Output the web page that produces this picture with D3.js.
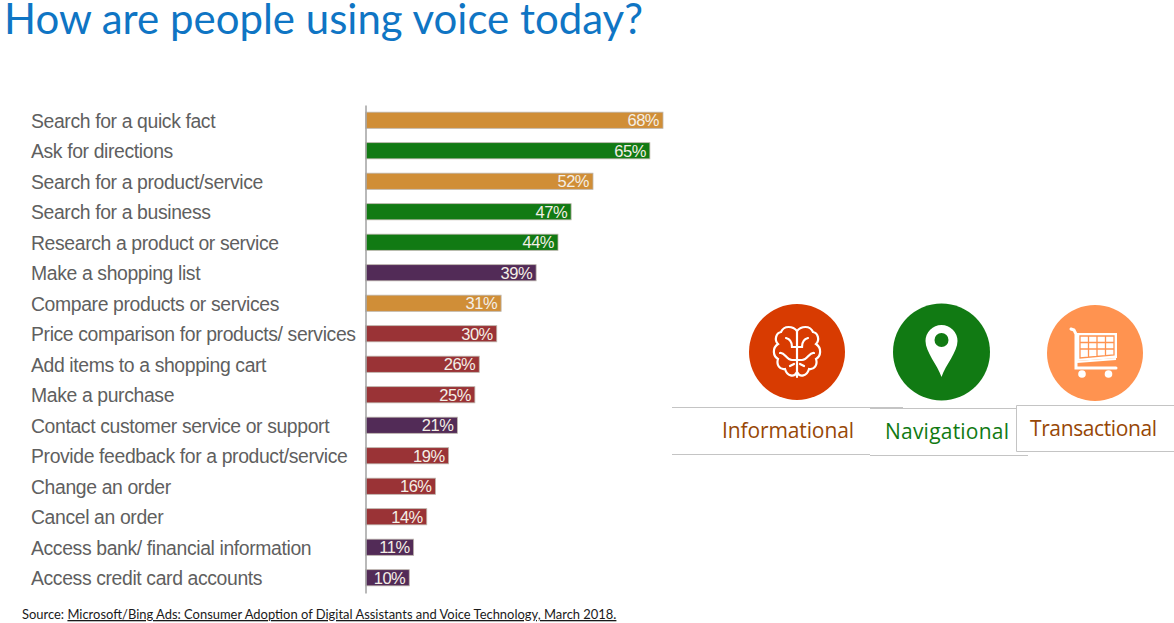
<!DOCTYPE html>
<html>
<head>
<meta charset="utf-8">
<script src="https://cdn.jsdelivr.net/npm/d3@7"></script>
<style>
  html, body { margin: 0; padding: 0; background: #fff; overflow: hidden; }
  svg { display: block; }
</style>
</head>
<body>
<div id="chart"></div>
<script>
const categories = [
  'Search for a quick fact', 'Ask for directions', 'Search for a product/service',
  'Search for a business', 'Research a product or service', 'Make a shopping list',
  'Compare products or services', 'Price comparison for products/ services',
  'Add items to a shopping cart', 'Make a purchase', 'Contact customer service or support',
  'Provide feedback for a product/service', 'Change an order', 'Cancel an order',
  'Access bank/ financial information', 'Access credit card accounts'
];
const values = [68, 65, 52, 47, 44, 39, 31, 30, 26, 25, 21, 19, 16, 14, 11, 10];
const groups = ['info', 'nav', 'info', 'nav', 'nav', 'other', 'info', 'trans',
  'trans', 'trans', 'other', 'trans', 'trans', 'trans', 'other', 'other'];
const groupKeys = ['info', 'nav', 'trans', 'other'];
const groupColors = ['#d08e37', '#117a13', '#9a3336', '#522b57'];
const legendLabels = ['Informational', 'Navigational', 'Transactional'];

const svg = d3.select('#chart').append('svg').attr('width', 1174).attr('height', 623);

// Escalas
const x = d3.scaleLinear().domain([0, 68]).range([365.5, 663]);
const y = d3.scaleBand().domain(categories).range([105, 593]).paddingInner(0.47).paddingOuter(0.235);
const color = d3.scaleOrdinal().domain(groupKeys).range(groupColors);

// Titulo
svg.append('text')
  .attr('x', 4).attr('y', 34)
  .attr('font-family', 'Lato').attr('font-weight', 400).attr('font-size', 42)
  .attr('fill', '#0f75c4')
  .attr('textLength', 639)
  .attr('lengthAdjust', 'spacingAndGlyphs')
  .text('How are people using voice today?');

// Barras
svg.selectAll('.bar')
  .data(values)
  .enter().append('rect')
  .attr('class', 'bar')
  .attr('x', x(0))
  .attr('y', (d, i) => y(categories[i]))
  .attr('width', d => x(d) - x(0))
  .attr('height', y.bandwidth())
  .attr('fill', (d, i) => color(groups[i]))
  .attr('stroke', '#bdb6ad')
  .attr('stroke-width', 0.8);

// Eje
const axis = svg.append('g')
  .attr('transform', `translate(${x(0)},0)`)
  .call(d3.axisLeft(y).tickSize(0).tickPadding(334.5));
axis.select('.domain').attr('stroke', '#a8a8a8').attr('stroke-width', 1.6);
axis.selectAll('text')
  .attr('font-family', 'Liberation Sans')
  .attr('font-size', 19.4)
  .attr('letter-spacing', -0.38)
  .attr('dy', '0.38em')
  .attr('fill', '#5f5f5f')
  .attr('text-anchor', 'start');

// Etiquetas de valor
svg.selectAll('.value')
  .data(values)
  .enter().append('text')
  .attr('class', 'value')
  .attr('x', d => x(d) - 4)
  .attr('y', (d, i) => y(categories[i]) + y.bandwidth() / 2)
  .attr('dy', '0.36em')
  .attr('text-anchor', 'end')
  .attr('font-family', 'Liberation Sans')
  .attr('font-size', 16.5)
  .attr('letter-spacing', -0.5)
  .attr('fill', '#f4efe6')
  .text(d => d + '%');

// Fuente
const source = svg.append('text')
  .attr('x', 22).attr('y', 619)
  .attr('font-family', 'Lato').attr('font-size', 12.95)
  .attr('fill', '#1a1a1a');
source.append('tspan').text('Source: ');
source.append('tspan')
  .style('text-decoration', 'underline')
  .style('text-decoration-thickness', '1.6px')
  .text('Microsoft/Bing Ads: Consumer Adoption of Digital Assistants and Voice Technology, March 2018.');

// Iconos
const icons = svg.append('g');
const brain = icons.append('g').attr('transform', 'translate(797,352)');
brain.append('circle').attr('r', 48).attr('fill', '#d83b01');
brain.append('path')
  .attr('fill', 'none').attr('stroke', '#fff').attr('stroke-width', 2.2).attr('stroke-linecap', 'round')
  .attr('d', 'M0,-21 C-4,-26 -13,-27 -16,-20 C-21,-19 -23,-12 -19,-8 C-25,-4 -24,4 -19,7 C-21,13 -17,18 -12,17 C-10,24 -3,26 0,20 C3,26 10,24 12,17 C17,18 21,13 19,7 C24,4 25,-4 19,-8 C23,-12 21,-19 16,-20 C13,-27 4,-26 0,-21 Z M0,-21 V25 M-11,-14 C-7,-13 -5,-9 -5,-5 L0,-5 L5,-5 C5,-9 7,-13 11,-14 M-17,1 C-12,0 -11,8 -5,8 L5,8 C11,8 12,0 17,1 M-7,14 L-3,12 M7,14 L3,12');

const pin = icons.append('g').attr('transform', 'translate(941.5,352)');
pin.append('circle').attr('r', 48.5).attr('fill', '#117a13');
pin.append('path')
  .attr('fill', '#fff')
  .attr('d', 'M0,25 C-4,13 -16,0 -16,-11 A16,16 0 1 1 16,-11 C16,0 4,13 0,25 Z');
pin.append('circle').attr('cy', -12).attr('r', 7).attr('fill', '#117a13');

const cart = icons.append('g').attr('transform', 'translate(1095,353)');
cart.append('circle').attr('r', 48).attr('fill', '#ff9350');
cart.append('path')
  .attr('fill', '#fff')
  .attr('d', 'M-18,-20 H22 V5 L-18,8 Z');
cart.append('path')
  .attr('fill', 'none').attr('stroke', '#ff9350').attr('stroke-width', 1.3)
  .attr('d', 'M-15,-17 H19 V2 L-15,5 Z M-6.5,-17 V4.5 M2,-17 V4 M10.5,-17 V3 M-15,-10.5 H19 M-15,-4 H19');
cart.append('path')
  .attr('fill', 'none').attr('stroke', '#fff').attr('stroke-width', 3).attr('stroke-linecap', 'round')
  .attr('d', 'M-24,-24 L-21,-23 L-19,-19 L-19,15 L21,15');
cart.append('path')
  .attr('fill', 'none').attr('stroke', '#fff').attr('stroke-width', 2)
  .attr('d', 'M-18,9 L21,6');
cart.append('circle').attr('cx', -13).attr('cy', 21).attr('r', 3.8).attr('fill', '#fff');
cart.append('circle').attr('cx', 13.5).attr('cy', 21).attr('r', 3.8).attr('fill', '#fff');

// Cajas de la leyenda
svg.append('path')
  .attr('fill', 'none').attr('stroke', '#c4c4c4').attr('stroke-width', 1)
  .attr('d', 'M672,407.5 H903 M672,454.5 H870 M870,408.5 H1016 M870,455.5 H1028 M1174,405.5 H1016.5 V451.5 H1174');

const legendX = [722, 885, 1030];
const legendY = [438, 439, 436];
const legendWidth = [132, 124, 127];
const legendColors = ['#974706', '#117a13', '#974706'];
svg.selectAll('.legend')
  .data(legendLabels)
  .enter().append('text')
  .attr('class', 'legend')
  .attr('x', (d, i) => legendX[i])
  .attr('y', (d, i) => legendY[i])
  .attr('font-family', 'Open Sans')
  .attr('font-size', 21)
  .attr('textLength', (d, i) => legendWidth[i])
  .attr('fill', (d, i) => legendColors[i])
  .text(d => d);
</script>
</body>
</html>
